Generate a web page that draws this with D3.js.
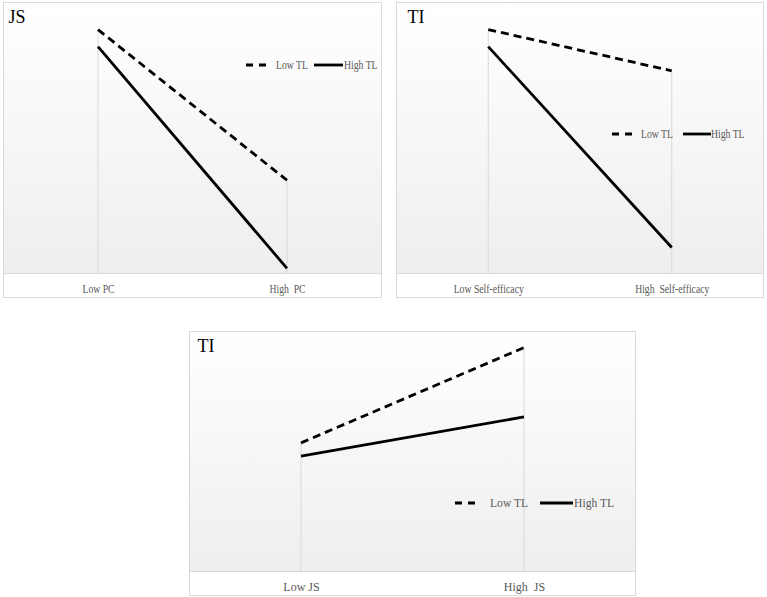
<!DOCTYPE html>
<html>
<head>
<meta charset="utf-8">
<script src="https://cdn.jsdelivr.net/npm/d3@7"></script>
<style>
  body { margin: 0; background: #fff; }
  svg text { white-space: pre; }
</style>
</head>
<body>
<div id="plot"></div>
<script>
var serif = "Liberation Serif, DejaVu Serif, serif";

// categories on the x axis of each panel
var pcCategories = ["Low PC", "High  PC"];
var seCategories = ["Low Self-efficacy", "High  Self-efficacy"];
var jsCategories = ["Low JS", "High  JS"];

// series values (0-10 scale)
var jsLowTL = [9.0, 3.44];
var jsHighTL = [8.37, 0.19];
var tiSeLowTL = [9.0, 7.48];
var tiSeHighTL = [8.37, 0.96];
var tiJsLowTL = [5.36, 9.33];
var tiJsHighTL = [4.81, 6.44];

var seriesNames = ["Low TL", "High TL"];

var svg = d3.select("#plot")
  .append("svg")
    .attr("width", 767)
    .attr("height", 597)
    .attr("font-family", serif);

var grad = svg.append("defs").append("linearGradient")
    .attr("id", "bg")
    .attr("x1", 0).attr("y1", 0)
    .attr("x2", 0).attr("y2", 1);
grad.append("stop").attr("offset", "0%").attr("stop-color", "#ffffff");
grad.append("stop").attr("offset", "100%").attr("stop-color", "#eeeeee");

// the two upper panels look squeezed sideways, so their text is narrowed
var panels = [
  {x: 3.5, y: 2.5, w: 378, h: 295, axisH: 24, title: "JS", titleX: 5, squeeze: 0.81,
   cats: pcCategories, low: jsLowTL, high: jsHighTL,
   legend: {x: 246, y: 65, size: 12, t1: 30, l1: 68, l2: 97, t2: 98, sq: 0.81}},
  {x: 396.5, y: 2.5, w: 367, h: 295, axisH: 24, title: "TI", titleX: 11, squeeze: 0.81,
   cats: seCategories, low: tiSeLowTL, high: tiSeHighTL,
   legend: {x: 612, y: 134, size: 12, t1: 29, l1: 71, l2: 99, t2: 99, sq: 0.81}},
  {x: 189.5, y: 331.5, w: 446, h: 264, axisH: 24, title: "TI", titleX: 8, squeeze: 1,
   cats: jsCategories, low: tiJsLowTL, high: tiJsHighTL,
   legend: {x: 455, y: 503, size: 12, t1: 35, l1: 85, l2: 118, t2: 119, sq: 0.97}}
];

panels.forEach(function(p) {
  var g = svg.append("g")
    .attr("transform", "translate(" + p.x + "," + p.y + ")");

  var plotH = p.h - p.axisH;

  // plot area with the grey fade
  g.append("rect")
    .attr("x", 0).attr("y", 0)
    .attr("width", p.w).attr("height", plotH)
    .style("fill", "url(#bg)");

  // panel border
  g.append("rect")
    .attr("x", 0).attr("y", 0)
    .attr("width", p.w).attr("height", p.h)
    .style("fill", "none")
    .style("stroke", "#d9d9d9");

  var x = d3.scalePoint()
    .domain(p.cats)
    .range([0, p.w])
    .padding(0.5);

  var y = d3.scaleLinear()
    .domain([0, 10])
    .range([plotH, 0]);

  // drop lines
  g.selectAll(".drop")
    .data(p.cats)
    .enter()
    .append("line")
      .attr("x1", function(d) { return x(d); })
      .attr("x2", function(d) { return x(d); })
      .attr("y1", function(d, i) { return y(Math.max(p.low[i], p.high[i])); })
      .attr("y2", plotH)
      .style("stroke", "#d9d9d9");

  // category axis
  var axis = g.append("g")
    .attr("transform", "translate(0," + plotH + ")")
    .call(d3.axisBottom(x).tickSize(0).tickPadding(11))
    .attr("font-family", serif)
    .attr("font-size", 12);
  axis.select(".domain").attr("d", "M0,0H" + p.w).attr("stroke", "#d9d9d9");
  axis.selectAll("text")
    .attr("fill", "#595959")
    .attr("transform", "scale(" + p.squeeze + ",1)");

  var line = d3.line()
    .x(function(d, i) { return x(p.cats[i]); })
    .y(function(d) { return y(d); });

  g.append("path")
    .datum(p.low)
    .attr("d", line)
    .style("fill", "none")
    .style("stroke", "#000")
    .style("stroke-width", 2.8)
    .style("stroke-dasharray", "8,5");

  g.append("path")
    .datum(p.high)
    .attr("d", line)
    .style("fill", "none")
    .style("stroke", "#000")
    .style("stroke-width", 2.8);

  // title
  g.append("text")
    .attr("x", p.titleX)
    .attr("y", 20)
    .attr("font-size", 18)
    .attr("fill", "#000")
    .text(p.title);

  // legend
  var L = p.legend;
  var lg = svg.append("g")
    .attr("transform", "translate(" + L.x + "," + L.y + ")");
  lg.append("line")
    .attr("x1", 0).attr("x2", L.t1 - 9)
    .attr("y1", 0).attr("y2", 0)
    .style("stroke", "#000")
    .style("stroke-width", 2.8)
    .style("stroke-dasharray", "7,6");
  lg.append("text")
    .attr("transform", "translate(" + L.t1 + ",4) scale(" + L.sq + ",1)")
    .attr("font-size", L.size)
    .attr("fill", "#595959")
    .text(seriesNames[0]);
  lg.append("line")
    .attr("x1", L.l1).attr("x2", L.l2)
    .attr("y1", 0).attr("y2", 0)
    .style("stroke", "#000")
    .style("stroke-width", 2.8);
  lg.append("text")
    .attr("transform", "translate(" + L.t2 + ",4) scale(" + L.sq + ",1)")
    .attr("font-size", L.size)
    .attr("fill", "#595959")
    .text(seriesNames[1]);
});
</script>
</body>
</html>
